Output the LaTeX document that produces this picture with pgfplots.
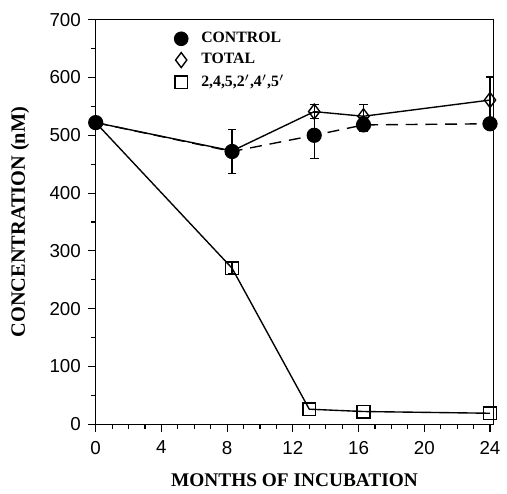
\documentclass[border=0pt]{standalone}
\usepackage{pgfplots}
\pgfplotsset{compat=1.18}
\usepackage{fontspec}
\setmainfont{Liberation Serif}
\setsansfont{Liberation Sans}
\begin{document}
\begin{tikzpicture}
\begin{axis}[
  scale only axis,
  width=201.5pt, height=205pt,
  xmin=0, xmax=24.2,
  ymin=0, ymax=700,
  xtick={0,4,...,24},
  ytick={0,100,...,700},
  minor x tick num=3,
  minor y tick num=1,
  tick align=outside,
  tick pos=left,
  major tick length=4pt,
  minor tick length=2.5pt,
  axis line style={line width=0.7pt},
  every tick/.style={line width=0.6pt, black},
  /pgf/number format/assume math mode=true,
  tick label style={font=\sffamily\fontsize{9.5}{11}\selectfont},
  xticklabel style={yshift=-1pt},
  xlabel={\bfseries MONTHS OF INCUBATION},
  ylabel={\bfseries CONCENTRATION (nM)},
  xlabel style={font=\fontsize{9.8}{11}\selectfont, yshift=-3pt},
  ylabel style={font=\fontsize{10.3}{12}\selectfont, yshift=3.5pt},
  legend style={draw=none, fill=none, font=\bfseries\fontsize{8}{9}\selectfont,
    at={(axis description cs:0.17,0.99)}, anchor=north west,
    row sep=0pt, cells={anchor=west}},
  legend image code/.code={\path (0cm,0cm) (0.48cm,0cm);
    \draw[#1, solid] plot coordinates {(0.2cm,0cm)};},
  error bars/error bar style={line width=0.6pt, solid},
  error bars/error mark options={rotate=90, mark size=2.2pt, line width=0.6pt},
]
\addlegendimage{black, mark=*, mark size=3.5pt}
\addlegendentry{CONTROL}
\addlegendimage{black, mark=diamond, mark size=3.8pt, mark options={line width=0.7pt}}
\addlegendentry{TOTAL}
\addlegendimage{black, mark=square, mark size=3.2pt, mark options={line width=0.7pt}}
\addlegendentry{2,4,5,2$'$,4$'$,5$'$}

% 2,4,5,2',4',5'
\addplot[black, line width=0.7pt, mark=square, mark size=3.2pt, mark indices={2,...,5},
  mark options={fill=white, line width=0.7pt}, forget plot,
  error bars/.cd, y dir=both, y explicit] coordinates {
  (0, 522)
  (8.3, 270) +- (0, 10)
  (13.0, 26)
  (16.3, 22)
  (24.0, 19)
};
% total
\addplot[black, line width=0.7pt, mark=diamond, mark size=3.8pt, mark indices={3,...,5},
  mark options={fill=white, line width=0.7pt}, forget plot,
  error bars/.cd, y dir=both, y explicit] coordinates {
  (0, 522)
  (8.3, 473)
  (13.3, 541) +- (0, 12)
  (16.3, 533) +- (0, 20)
  (24.0, 561) +- (0, 40)
};
% control
\addplot[black, line width=0.7pt, dash pattern=on 6pt off 4pt, mark=*, mark size=3.5pt,
  mark options={solid}, forget plot,
  error bars/.cd, y dir=both, y explicit] coordinates {
  (0, 522)
  (8.3, 472) +- (0, 38)
  (13.3, 500) +- (0, 40)
  (16.3, 518) +- (0, 12)
  (24.0, 520)
};
\end{axis}
\useasboundingbox (-48.5pt,-34pt) rectangle (204.5pt,215pt);
\end{tikzpicture}
\end{document}
